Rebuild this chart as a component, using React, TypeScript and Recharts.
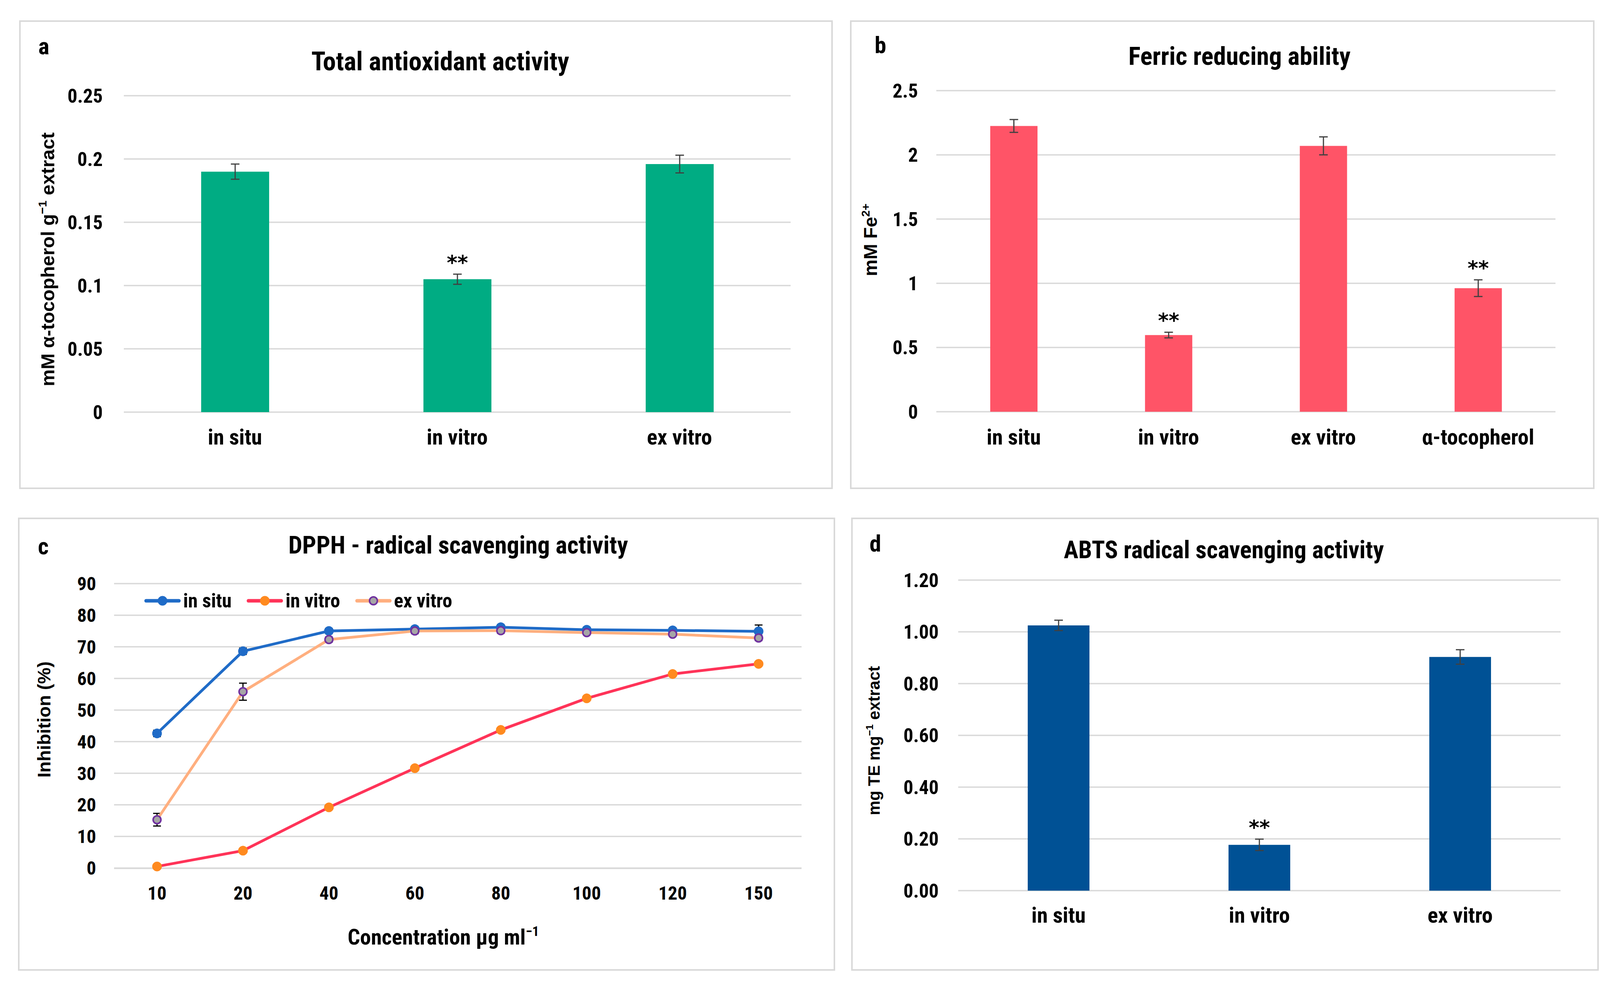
import React from 'react';
import {
  BarChart,
  Bar,
  XAxis,
  YAxis,
  CartesianGrid,
  ErrorBar,
  LabelList,
  LineChart,
  Line,
  Legend,
} from 'recharts';

// ---------------- DATA ----------------
// (a) Total antioxidant activity
const taaCategories = ['in situ', 'in vitro', 'ex vitro'];
const taaValues = [0.19, 0.105, 0.196];
const taaErrors = [0.006, 0.004, 0.007];
const taaSig = ['', '**', ''];
const taaTicks = [0, 0.05, 0.1, 0.15, 0.2, 0.25];

// (b) Ferric reducing ability
const frapCategories = ['in situ', 'in vitro', 'ex vitro', 'α-tocopherol'];
const frapValues = [2.225, 0.597, 2.07, 0.962];
const frapErrors = [0.05, 0.022, 0.07, 0.065];
const frapSig = ['', '**', '', '**'];
const frapTicks = [0, 0.5, 1, 1.5, 2, 2.5];

// (c) DPPH radical scavenging activity
const dpphConcentrations = ['10', '20', '40', '60', '80', '100', '120', '150'];
const dpphInSitu = [42.6, 68.6, 75.0, 75.6, 76.2, 75.4, 75.2, 74.9];
const dpphInSituErr = [1.0, 1.0, 0.8, 0.8, 0.8, 0.8, 0.8, 2.0];
const dpphInVitro = [0.5, 5.5, 19.2, 31.6, 43.7, 53.7, 61.4, 64.6];
const dpphInVitroErr = [0.6, 0.7, 0.7, 0.7, 0.7, 0.7, 0.7, 0.7];
const dpphExVitro = [15.3, 55.8, 72.3, 75.0, 75.1, 74.5, 74.0, 72.8];
const dpphExVitroErr = [2.0, 2.7, 0.8, 0.8, 0.8, 0.5, 0.5, 0.8];
const dpphTicks = [0, 10, 20, 30, 40, 50, 60, 70, 80, 90];

// (d) ABTS radical scavenging activity
const abtsCategories = ['in situ', 'in vitro', 'ex vitro'];
const abtsValues = [1.025, 0.177, 0.903];
const abtsErrors = [0.02, 0.022, 0.028];
const abtsSig = ['', '**', ''];
const abtsTicks = [0, 0.2, 0.4, 0.6, 0.8, 1.0, 1.2];

// ---------------- STYLE ----------------
const NARROW = "'Liberation Sans Narrow', 'Arial Narrow', 'Roboto Condensed', 'Liberation Sans', sans-serif";
const ARIAL = "'Liberation Sans', Arial, sans-serif";
const STAR = "'DejaVu Sans', sans-serif";
const GRID = '#D9D9D9';

type Row = { cat: string; value: number; err: number; sig: string };

const buildRows = (cats: string[], vals: number[], errs: number[], sig: string[]): Row[] =>
  cats.map((c, i) => ({ cat: c, value: vals[i], err: errs[i], sig: sig[i] }));

const makeStarContent = (rows: Row[]) => (props: any) => {
  const vb = props.viewBox || props;
  const x = vb.x ?? props.x;
  const y = vb.y ?? props.y;
  const w = vb.width ?? props.width;
  const h = Math.abs(vb.height ?? props.height);
  const row = rows.find((r) => r.cat === props.value);
  if (!row || !row.sig) return null;
  const errPx = (row.err * h) / row.value;
  return (
    <text
      x={x + w / 2}
      y={y - errPx - 12}
      textAnchor="middle"
      fontFamily={STAR}
      fontWeight="bold"
      fontSize={52}
      fill="#000"
    >
      {row.sig}
    </text>
  );
};

type Box = { left: number; top: number; width: number; height: number };
type Plot = { left: number; right: number; top: number; bottom: number };

const Frame: React.FC<{ box: Box; children: React.ReactNode }> = ({ box, children }) => (
  <div
    style={{
      position: 'absolute',
      left: box.left,
      top: box.top,
      width: box.width,
      height: box.height,
    }}
  >
    <div
      style={{
        position: 'absolute',
        left: 0,
        top: 0,
        width: box.width,
        height: box.height,
        border: `4px solid ${GRID}`,
        boxSizing: 'border-box',
      }}
    />
    {children}
  </div>
);

type Sup = { base: string; sup?: string; tail?: string };

const SupText: React.FC<{ t: Sup; fs: number }> = ({ t, fs }) => (
  <>
    <tspan>{t.base}</tspan>
    {t.sup ? (
      <tspan dy={-0.4 * fs} fontSize={0.62 * fs}>
        {t.sup}
      </tspan>
    ) : null}
    {t.tail ? <tspan dy={0.4 * fs}>{t.tail}</tspan> : null}
  </>
);

type Overlay = {
  title: string;
  titleFs: number;
  titleX: number;
  titleY: number;
  letter: string;
  letterX: number;
  letterY: number;
  yLabel: Sup;
  yLabelX: number;
  yLabelY: number;
  yLabelFs: number;
  xLabel?: Sup;
  xLabelX?: number;
  xLabelY?: number;
};

const Texts: React.FC<{ box: Box; o: Overlay }> = ({ box, o }) => (
  <svg
    width={box.width}
    height={box.height}
    style={{ position: 'absolute', left: 0, top: 0, pointerEvents: 'none' }}
  >
    <text x={o.titleX} y={o.titleY} textAnchor="middle" fontFamily={NARROW} fontWeight="bold" fontSize={o.titleFs} fill="#000">
      {o.title}
    </text>
    <text x={o.letterX} y={o.letterY} fontFamily={NARROW} fontWeight="bold" fontSize={60} fill="#000">
      {o.letter}
    </text>
    <text
      x={o.yLabelX}
      y={o.yLabelY}
      transform={`rotate(-90 ${o.yLabelX} ${o.yLabelY})`}
      textAnchor="middle"
      fontFamily={ARIAL}
      fontWeight="bold"
      fontSize={o.yLabelFs}
      fill="#000"
    >
      <SupText t={o.yLabel} fs={o.yLabelFs} />
    </text>
    {o.xLabel ? (
      <text x={o.xLabelX} y={o.xLabelY} textAnchor="middle" fontFamily={NARROW} fontWeight="bold" fontSize={56} fill="#000">
        <SupText t={o.xLabel} fs={56} />
      </text>
    ) : null}
  </svg>
);

type BarPanelProps = {
  box: Box;
  plot: Plot;
  rows: Row[];
  ticks: number[];
  color: string;
  barSize: number;
  yTickGap: number;
  xTickGap: number;
  fmt?: (v: number) => string;
  overlay: Overlay;
};

const BarPanel: React.FC<BarPanelProps> = ({ box, plot, rows, ticks, color, barSize, yTickGap, xTickGap, fmt, overlay }) => (
  <Frame box={box}>
    <div style={{ position: 'absolute', left: 0, top: 0 }}>
      <BarChart
        width={box.width}
        height={box.height}
        data={rows}
        margin={{ top: plot.top, right: box.width - plot.right, bottom: 0, left: 0 }}
      >
        <CartesianGrid vertical={false} stroke={GRID} strokeWidth={3.5} />
        <XAxis
          dataKey="cat"
          axisLine={false}
          tickLine={false}
          tickSize={0}
          tickMargin={xTickGap}
          height={box.height - plot.bottom}
          interval={0}
          tick={{ fontSize: 56, fontWeight: 'bold', fill: '#000', fontFamily: NARROW }}
        />
        <YAxis
          width={plot.left}
          domain={[ticks[0], ticks[ticks.length - 1]]}
          ticks={ticks}
          interval={0}
          axisLine={false}
          tickLine={false}
          tickSize={0}
          tickMargin={yTickGap}
          tickFormatter={fmt}
          tick={{ fontSize: 50, fontWeight: 'bold', fill: '#000', fontFamily: NARROW }}
        />
        <Bar dataKey="value" fill={color} barSize={barSize} isAnimationActive={false}>
          <ErrorBar dataKey="err" width={11} strokeWidth={3} stroke="#404040" direction="y" />
          <LabelList dataKey="cat" content={makeStarContent(rows)} />
        </Bar>
      </BarChart>
    </div>
    <Texts box={box} o={overlay} />
  </Frame>
);

// ---------------- LINE PANEL ----------------
const dpphSeries = [
  { key: 'inSitu', errKey: 'inSituErr', name: 'in situ', stroke: '#1F6BC7', fill: '#1F6BC7', dotStroke: '#1F6BC7', dotStrokeWidth: 1, r: 12 },
  { key: 'inVitro', errKey: 'inVitroErr', name: 'in vitro', stroke: '#FF3358', fill: '#FF8A1F', dotStroke: '#FF8A1F', dotStrokeWidth: 1, r: 12 },
  { key: 'exVitro', errKey: 'exVitroErr', name: 'ex vitro', stroke: '#FFAF7F', fill: '#A6A6A6', dotStroke: '#7030A0', dotStrokeWidth: 4, r: 10 },
];

const dpphRows = dpphConcentrations.map((c, i) => ({
  conc: c,
  inSitu: dpphInSitu[i],
  inSituErr: dpphInSituErr[i],
  inVitro: dpphInVitro[i],
  inVitroErr: dpphInVitroErr[i],
  exVitro: dpphExVitro[i],
  exVitroErr: dpphExVitroErr[i],
}));

const renderLegend = (props: any) => {
  const payload: any[] = props.payload || [];
  const shown = dpphSeries.filter((s) => payload.length === 0 || payload.some((p) => p.dataKey === s.key));
  return (
    <div style={{ display: 'flex', alignItems: 'center', gap: 38, height: 50 }}>
      {shown.map((s) => (
        <div key={s.key} style={{ display: 'flex', alignItems: 'center' }}>
          <svg width={94} height={30}>
            <line x1={5} y1={15} x2={89} y2={15} stroke={s.stroke} strokeWidth={9} strokeLinecap="round" />
            <circle cx={47} cy={15} r={s.r} fill={s.fill} stroke={s.dotStroke} strokeWidth={s.dotStrokeWidth} />
          </svg>
          <span
            style={{
              marginLeft: 6,
              fontFamily: NARROW,
              fontWeight: 'bold',
              fontSize: 50,
              lineHeight: '50px',
              color: '#000',
            }}
          >
            {s.name}
          </span>
        </div>
      ))}
    </div>
  );
};

const cBox: Box = { left: 46, top: 1325, width: 2092, height: 1160 };
const cPlot: Plot = { left: 246, right: 2006, top: 169, bottom: 898 };
const cBand = (cPlot.right - cPlot.left) / dpphConcentrations.length;

const LinePanel: React.FC = () => (
  <Frame box={cBox}>
    <div style={{ position: 'absolute', left: 0, top: 0 }}>
      <LineChart
        width={cBox.width}
        height={cBox.height}
        data={dpphRows}
        margin={{ top: cPlot.top, right: cBox.width - cPlot.right, bottom: 0, left: 0 }}
      >
        <CartesianGrid vertical={false} stroke={GRID} strokeWidth={3.5} />
        <XAxis
          dataKey="conc"
          axisLine={false}
          tickLine={false}
          tickSize={0}
          tickMargin={46}
          height={cBox.height - cPlot.bottom}
          interval={0}
          padding={{ left: cBand / 2, right: cBand / 2 }}
          tick={{ fontSize: 48, fontWeight: 'bold', fill: '#000', fontFamily: NARROW }}
        />
        <YAxis
          width={cPlot.left}
          domain={[0, 90]}
          ticks={dpphTicks}
          interval={0}
          axisLine={false}
          tickLine={false}
          tickSize={0}
          tickMargin={46}
          tick={{ fontSize: 48, fontWeight: 'bold', fill: '#000', fontFamily: NARROW }}
        />
        <Legend
          verticalAlign="middle"
          align="center"
          content={renderLegend}
          wrapperStyle={{ left: 323, top: 188, width: 900, height: 50 }}
        />
        {dpphSeries.map((s) => (
          <Line
            key={s.key}
            type="linear"
            dataKey={s.key}
            name={s.name}
            stroke={s.stroke}
            strokeWidth={7}
            dot={{ r: s.r, fill: s.fill, stroke: s.dotStroke, strokeWidth: s.dotStrokeWidth }}
            activeDot={false}
            isAnimationActive={false}
          >
            <ErrorBar dataKey={s.errKey} width={10} strokeWidth={3} stroke="#000" direction="y" />
          </Line>
        ))}
      </LineChart>
    </div>
    <Texts
      box={cBox}
      o={{
        title: 'DPPH - radical scavenging activity',
        titleFs: 63,
        titleX: 1127,
        titleY: 92,
        letter: 'c',
        letterX: 51,
        letterY: 94,
        yLabel: { base: 'Inhibition (%)' },
        yLabelX: 83,
        yLabelY: 517,
        yLabelFs: 47,
        xLabel: { base: 'Concentration μg ml', sup: '−1' },
        xLabelX: 1089,
        xLabelY: 1093,
      }}
    />
  </Frame>
);

// ---------------- APP ----------------
export default function App() {
  const aBox: Box = { left: 49, top: 52, width: 2083, height: 1200 };
  const bBox: Box = { left: 2176, top: 52, width: 1906, height: 1200 };
  const dBox: Box = { left: 2179, top: 1325, width: 1914, height: 1160 };
  return (
    <div
      style={{
        position: 'absolute',
        left: 0,
        top: 0,
        width: 4135,
        height: 2519,
        background: '#fff',
        overflow: 'hidden',
      }}
    >
      <BarPanel
        box={aBox}
        plot={{ left: 268, right: 1975, top: 193, bottom: 1003 }}
        rows={buildRows(taaCategories, taaValues, taaErrors, taaSig)}
        ticks={taaTicks}
        color="#00AC83"
        barSize={174}
        yTickGap={54}
        xTickGap={43}
        overlay={{
          title: 'Total antioxidant activity',
          titleFs: 67,
          titleX: 1078,
          titleY: 128,
          letter: 'a',
          letterX: 49,
          letterY: 87,
          yLabel: { base: 'mM α-tocopherol g', sup: '−1', tail: ' extract' },
          yLabelX: 90,
          yLabelY: 612,
          yLabelFs: 49,
        }}
      />
      <BarPanel
        box={bBox}
        plot={{ left: 221, right: 1806, top: 180, bottom: 1002 }}
        rows={buildRows(frapCategories, frapValues, frapErrors, frapSig)}
        ticks={frapTicks}
        color="#FF5467"
        barSize={121}
        yTickGap={47}
        xTickGap={44}
        overlay={{
          title: 'Ferric reducing ability',
          titleFs: 65,
          titleX: 997,
          titleY: 114,
          letter: 'b',
          letterX: 63,
          letterY: 84,
          yLabel: { base: 'mM Fe', sup: '2+' },
          yLabelX: 69,
          yLabelY: 562,
          yLabelFs: 48,
        }}
      />
      <LinePanel />
      <BarPanel
        box={dBox}
        plot={{ left: 274, right: 1816, top: 160, bottom: 955 }}
        rows={buildRows(abtsCategories, abtsValues, abtsErrors, abtsSig)}
        ticks={abtsTicks}
        color="#005195"
        barSize={158}
        yTickGap={50}
        xTickGap={42}
        fmt={(v: number) => v.toFixed(2)}
        overlay={{
          title: 'ABTS radical scavenging activity',
          titleFs: 62.5,
          titleX: 954,
          titleY: 104,
          letter: 'd',
          letterX: 47,
          letterY: 87,
          yLabel: { base: 'mg TE mg', sup: '−1', tail: ' extract' },
          yLabelX: 73,
          yLabelY: 571,
          yLabelFs: 42,
        }}
      />
    </div>
  );
}
